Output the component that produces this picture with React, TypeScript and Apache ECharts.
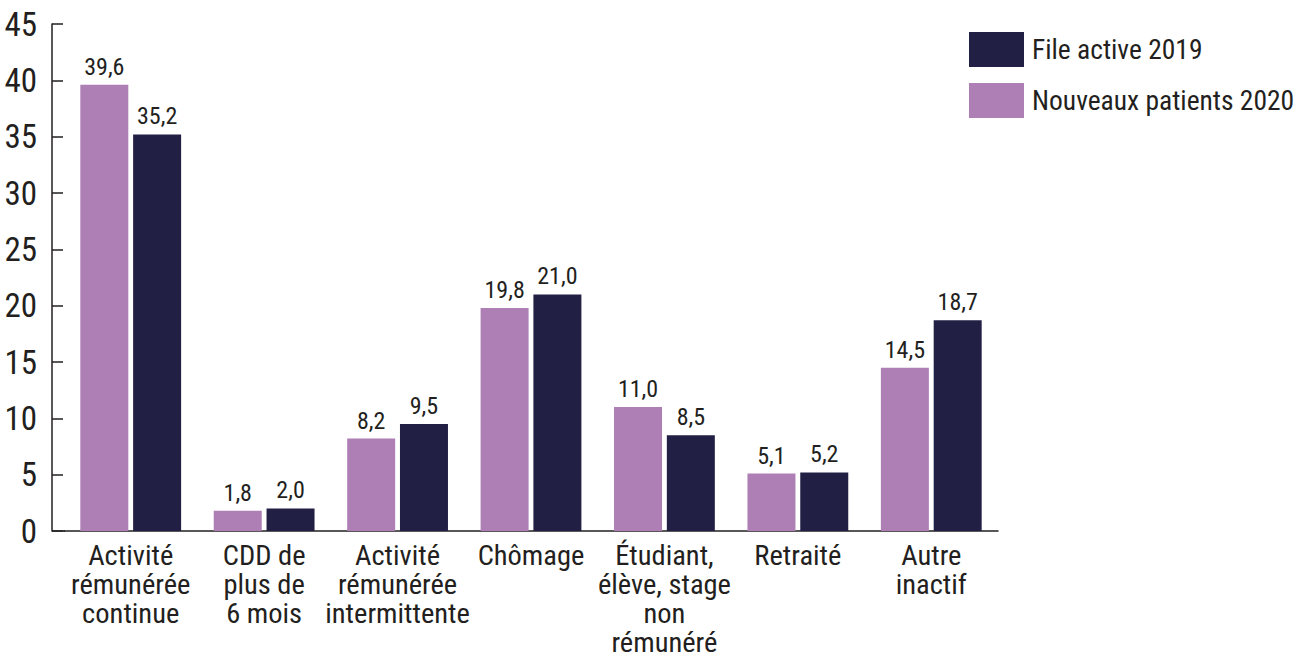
import React, { useEffect, useRef } from "react";
import * as echarts from "echarts";

const categories = [
  "Activité\nrémunérée\ncontinue",
  "CDD de\nplus de\n6 mois",
  "Activité\nrémunérée\nintermittente",
  "Chômage",
  "Étudiant,\nélève, stage\nnon\nrémunéré",
  "Retraité",
  "Autre\ninactif",
];
const nouveaux2020 = [39.6, 1.8, 8.2, 19.8, 11.0, 5.1, 14.5];
const fileActive2019 = [35.2, 2.0, 9.5, 21.0, 8.5, 5.2, 18.7];
const yTicks = { min: 0, max: 45, interval: 5 };

const FONT = "'Noto Sans Condensed', 'Roboto Condensed', Roboto, sans-serif";
const TEXT = "#231f20";
const PURPLE = "#ae7fb5";
const NAVY = "#221f45";

export default function App() {
  const ref = useRef<HTMLDivElement>(null);
  useEffect(() => {
    if (!ref.current) return;
    const chart = echarts.init(ref.current, null, { renderer: "svg" });
    const fmt = (p: any) => Number(p.value).toFixed(1).replace(".", ",");
    const valueLabel = {
      show: true,
      position: "top",
      distance: 6,
      formatter: fmt,
      fontFamily: FONT,
      fontSize: 24,
      color: TEXT,
    };
    chart.setOption({
      animation: false,
      textStyle: { fontFamily: FONT, color: TEXT },
      grid: { left: 64, right: 300, top: 24, bottom: 130 },
      legend: {
        data: ["File active 2019", "Nouveaux patients 2020"],
        orient: "vertical",
        left: 964,
        top: 27,
        itemWidth: 55,
        itemHeight: 35,
        itemGap: 16,
        icon: "rect",
        textStyle: { fontFamily: FONT, fontSize: 27.5, color: TEXT, padding: [0, 0, 0, 3] },
      },
      xAxis: {
        type: "category",
        data: categories,
        axisLine: { lineStyle: { color: TEXT, width: 1.5 } },
        axisTick: { inside: true, length: 12, lineStyle: { color: TEXT, width: 1.5 } },
        axisLabel: {
          fontFamily: FONT,
          fontSize: 28.5,
          lineHeight: 29,
          color: TEXT,
          margin: 10,
          interval: 0,
        },
      },
      yAxis: {
        type: "value",
        min: yTicks.min,
        max: yTicks.max,
        interval: yTicks.interval,
        offset: 12,
        splitLine: { show: false },
        axisLine: { show: true, lineStyle: { color: TEXT, width: 1.5 } },
        axisTick: { show: true, inside: true, length: 11, lineStyle: { color: TEXT, width: 1.5 } },
        axisLabel: { fontFamily: FONT, fontSize: 33, color: TEXT, margin: 15 },
      },
      graphic: [
        {
          type: "line",
          shape: { x1: 52, y1: 531, x2: 65, y2: 531 },
          style: { stroke: TEXT, lineWidth: 1.5 },
        },
      ],
      series: [
        {
          name: "Nouveaux patients 2020",
          type: "bar",
          data: nouveaux2020,
          barWidth: 48,
          barGap: "10%",
          itemStyle: { color: PURPLE },
          label: valueLabel,
        },
        {
          name: "File active 2019",
          type: "bar",
          data: fileActive2019,
          barWidth: 48,
          barGap: "10%",
          itemStyle: { color: NAVY },
          label: valueLabel,
        },
      ],
    });
    return () => chart.dispose();
  }, []);
  return (
    <div
      ref={ref}
      style={{ position: "fixed", left: 0, top: 0, width: 1298, height: 661, background: "#fff" }}
    />
  );
}
